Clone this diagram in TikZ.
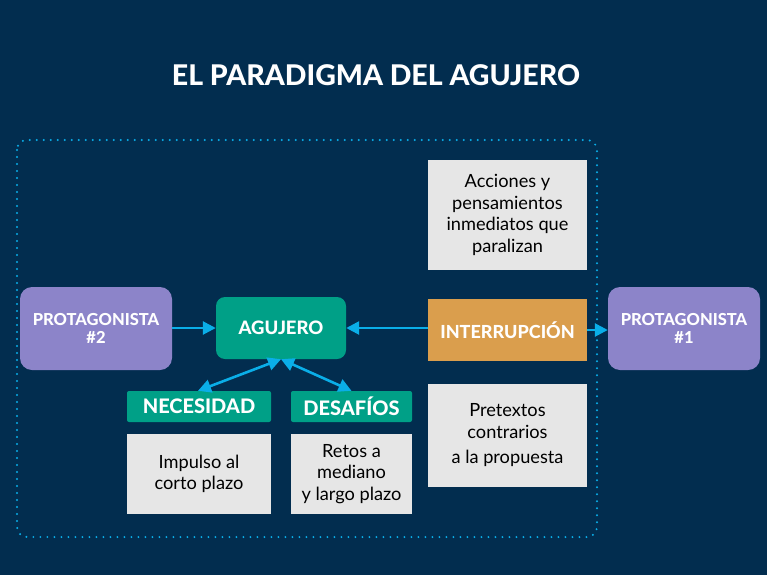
\documentclass[tikz,border=0pt]{standalone}
\usepackage{fontspec}
\setmainfont{Lato}
\newfontfamily\heavyfont{Lato Heavy}
\usetikzlibrary{arrows.meta}
\definecolor{bgnavy}{HTML}{022D4F}
\definecolor{cyanline}{HTML}{0AAEE8}
\definecolor{purp}{HTML}{8C84C9}
\definecolor{tealc}{HTML}{00A087}
\definecolor{orangec}{HTML}{DA9E4D}
\definecolor{greyc}{HTML}{E6E6E6}
\tikzset{
  px/.style={x=1pt,y=-1pt},
  protbox/.style={draw=none,fill=purp,rounded corners=12pt,text=white,font=\heavyfont\fontsize{16.5}{17.5}\selectfont,align=center},
  holebox/.style={fill=tealc,rounded corners=9pt,text=white,font=\heavyfont\fontsize{18.5}{20}\selectfont,align=center},
  headbox/.style={fill=tealc,rounded corners=2pt,text=white,font=\heavyfont\fontsize{20}{22}\selectfont,align=center},
  interbox/.style={fill=orangec,text=white,font=\heavyfont\fontsize{18}{20}\selectfont,align=center},
  infobox/.style={fill=greyc,text=black,font=\fontsize{18.2}{21.5}\selectfont,align=center},
  conn/.style={draw=cyanline,line width=2.6pt,-{Triangle[length=13pt,width=13pt]}},
  conn2/.style={draw=cyanline,line width=2.6pt,{Triangle[length=13pt,width=13pt]}-{Triangle[length=13pt,width=13pt]}},
}
\begin{document}
\begin{tikzpicture}[px]
\fill[bgnavy] (0,0) rectangle (767,575);
\useasboundingbox (0,0) rectangle (767,575);
\node[text=white,font=\heavyfont\fontsize{28.5}{32}\selectfont] (title) at (376,75) {EL PARADIGMA DEL AGUJERO};
\draw[cyanline,line width=2.2pt,dash pattern=on 0pt off 7pt,line cap=round,rounded corners=10pt] (17,140) rectangle (597,537);
% boxes
\node[protbox,minimum width=152pt,minimum height=83pt] (p2) at (96,328.5) {PROTAGONISTA\\\#2};
\node[holebox,minimum width=130pt,minimum height=62pt] (hole) at (281,328) {AGUJERO};
\node[interbox,minimum width=159pt,minimum height=62pt] (inter) at (507.5,330) {INTERRUPCIÓN};
\node[protbox,minimum width=152pt,minimum height=83pt] (p1) at (684,328.5) {PROTAGONISTA\\\#1};
\node[infobox,minimum width=159pt,minimum height=110pt] (acc) at (507.5,215) {Acciones y\\pensamientos\\inmediatos que\\paralizan};
\node[infobox,minimum width=159pt,minimum height=103pt] (pret) at (507.5,435.5) {Pretextos\\contrarios\\[4pt]a la propuesta};
\node[headbox,minimum width=144pt,minimum height=31pt] (nec) at (199,406.5) {NECESIDAD};
\node[infobox,minimum width=144pt,minimum height=80pt] (imp) at (199,474) {Impulso al\\corto plazo};
\node[headbox,minimum width=121pt,minimum height=31pt] (des) at (351.5,406.5) {DESAFÍOS};
\node[infobox,minimum width=121pt,minimum height=80pt] (ret) at (351.5,474) {Retos a\\mediano\\y largo plazo};
% connectors
\draw[conn] (p2.east |- hole.west) -- (hole.west);
\draw[conn] (inter.west |- hole.east) -- (hole.east);
\draw[conn] (inter.east) -- (p1.west |- inter.east);
\draw[conn2] (hole.south) -- ([xshift=-1pt]nec.north);
\draw[conn2] (hole.south) -- ([xshift=0pt]des.north);
\end{tikzpicture}
\end{document}
